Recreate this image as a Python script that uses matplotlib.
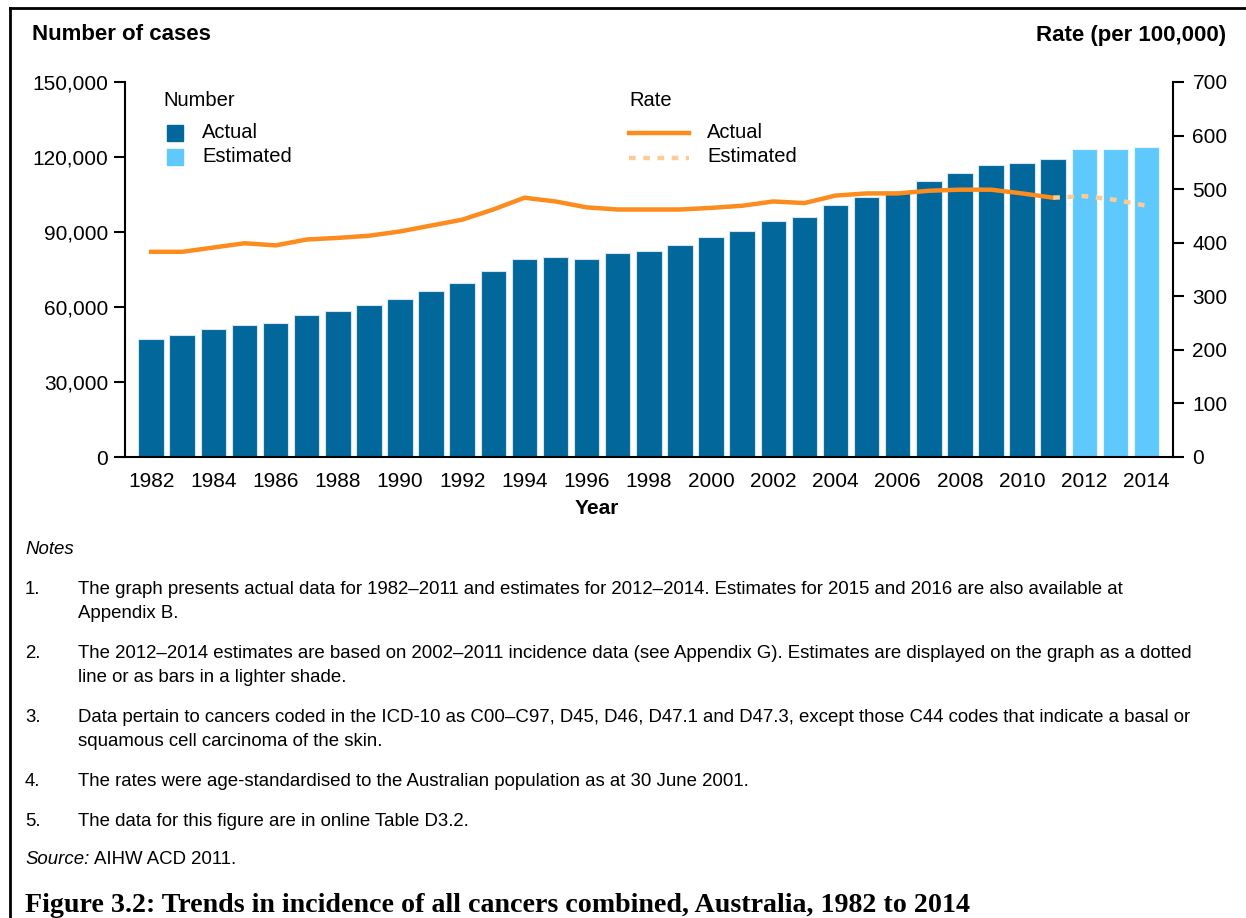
import numpy as np
import matplotlib
matplotlib.use("Agg")
import matplotlib.pyplot as plt
from matplotlib.patches import Rectangle
from matplotlib.lines import Line2D

plt.rcParams['font.family'] = ['Liberation Sans', 'DejaVu Sans']

# data
years_actual = list(range(1982, 2012))
years_est = [2012, 2013, 2014]
cases_actual = [47300, 48800, 51300, 52900, 53700, 56900, 58500, 60900, 63300, 66500,
                69600, 74400, 79200, 80000, 79200, 81600, 82400, 84800, 88000, 90500,
                94400, 96000, 100800, 104000, 106300, 110400, 113600, 116800, 117500, 119100]
cases_est = [123100, 123100, 124000]
rate_actual = [383, 383, 391, 399, 395, 406, 409, 413, 421, 432,
               443, 462, 484, 477, 466, 462, 462, 462, 465, 469,
               477, 474, 488, 492, 492, 497, 499, 499, 492, 484]
rate_years_est = [2011, 2012, 2013, 2014]
rate_est = [484, 487, 480, 469]
left_ticks = [0, 30000, 60000, 90000, 120000, 150000]
right_ticks = [0, 100, 200, 300, 400, 500, 600, 700]
year_ticks = list(range(1982, 2015, 2))

dark = '#02679a'
light = '#5fc9fe'
orange = '#fb8c1d'
peach = '#fdcb98'

W, H = 1246, 918
fig = plt.figure(figsize=(W / 100, H / 100), dpi=100)


def fx(px):
    return px / W


def fy(py):
    return 1 - py / H


ax = fig.add_axes([fx(125), fy(457), fx(1173) - fx(125), fy(82) - fy(457)])
ax.bar(years_actual, cases_actual, width=0.82, color=dark, edgecolor='#d6e6f0', linewidth=0.8)
ax.bar(years_est, cases_est, width=0.82, color=light, edgecolor='#e4f5ff', linewidth=0.8)
ax.set_xlim(1981.16, 2014.85)
ax.set_ylim(0, 150000)
ax.set_yticks(left_ticks)
ax.set_yticklabels([f'{v:,}' for v in left_ticks])
ax.set_xticks(year_ticks)
ax.tick_params(axis='y', direction='out', length=8, width=1.5, pad=4, labelsize=15)
ax.tick_params(axis='x', length=0, pad=11, labelsize=15)
for s in ['top', 'right']:
    ax.spines[s].set_visible(False)
ax.spines['left'].set_linewidth(1.5)
ax.spines['bottom'].set_linewidth(1.5)

ax2 = ax.twinx()
ax2.plot(years_actual, rate_actual, color=orange, lw=3.2, solid_joinstyle='round')
ax2.plot(rate_years_est, rate_est, color=peach, lw=3.2, linestyle=(0, (1.5, 1.7)))
ax2.set_ylim(0, 700)
ax2.set_yticks(right_ticks)
ax2.tick_params(axis='y', direction='out', length=8, width=1.5, pad=6, labelsize=15)
for s in ['top', 'left', 'bottom']:
    ax2.spines[s].set_visible(False)
ax2.spines['right'].set_linewidth(1.5)

# axis titles
fig.text(fx(32), fy(35), 'Number of cases', fontsize=16, fontweight='bold', va='center', ha='left')
fig.text(fx(1226), fy(35), 'Rate (per 100,000)', fontsize=16, fontweight='bold', va='center', ha='right')
fig.text(fx(597), fy(509), 'Year', fontsize=15, fontweight='bold', va='center', ha='center')

# legends
fig.text(fx(163), fy(101), 'Number', fontsize=14.5, va='center')
fig.text(fx(202), fy(133), 'Actual', fontsize=14.5, va='center')
fig.text(fx(202), fy(157), 'Estimated', fontsize=14.5, va='center')
fig.patches.append(Rectangle((fx(167), fy(141)), fx(16), fy(0) - fy(16), color=dark, transform=fig.transFigure))
fig.patches.append(Rectangle((fx(167), fy(165)), fx(16), fy(0) - fy(16), color=light, transform=fig.transFigure))
fig.text(fx(629), fy(101), 'Rate', fontsize=14.5, va='center')
fig.text(fx(707), fy(133), 'Actual', fontsize=14.5, va='center')
fig.text(fx(707), fy(157), 'Estimated', fontsize=14.5, va='center')
fig.lines.append(Line2D([fx(629), fx(689)], [fy(133), fy(133)], color=orange, lw=3.2, transform=fig.transFigure))
fig.lines.append(Line2D([fx(629), fx(689)], [fy(158), fy(158)], color=peach, lw=3.2,
                        linestyle=(0, (1.5, 1.7)), transform=fig.transFigure))

# border (top and left)
fig.lines.append(Line2D([fx(10), 1], [fy(8), fy(8)], color='black', lw=2, transform=fig.transFigure))
fig.lines.append(Line2D([fx(10), fx(10)], [fy(8), 0], color='black', lw=2, transform=fig.transFigure))

# notes
fs = 13.4
fig.text(fx(25), fy(549), 'Notes', fontsize=fs, style='italic', va='center')
notes = [
    ("1.", ["The graph presents actual data for 1982\u20132011 and estimates for 2012\u20132014. Estimates for 2015 and 2016 are also available at",
            "Appendix B."], 589),
    ("2.", ["The 2012\u20132014 estimates are based on 2002\u20132011 incidence data (see Appendix G). Estimates are displayed on the graph as a dotted",
            "line or as bars in a lighter shade."], 653),
    ("3.", ["Data pertain to cancers coded in the ICD-10 as C00\u2013C97, D45, D46, D47.1 and D47.3, except those C44 codes that indicate a basal or",
            "squamous cell carcinoma of the skin."], 717),
    ("4.", ["The rates were age-standardised to the Australian population as at 30 June 2001."], 781),
    ("5.", ["The data for this figure are in online Table D3.2."], 822),
]
for num, lines, y in notes:
    fig.text(fx(25), fy(y), num, fontsize=fs, va='center')
    for k, line in enumerate(lines):
        fig.text(fx(78), fy(y + 24 * k), line, fontsize=fs, va='center')

fig.text(fx(25), fy(860), 'Source:', fontsize=fs, style='italic', va='center')
fig.text(fx(94), fy(860), 'AIHW ACD 2011.', fontsize=fs, va='center')

fig.text(fx(25), fy(905), 'Figure 3.2: Trends in incidence of all cancers combined, Australia, 1982 to 2014',
         fontsize=20.2, fontweight='bold', family=['Liberation Serif', 'DejaVu Serif'], va='center')

fig.savefig('out.png', dpi=100)
